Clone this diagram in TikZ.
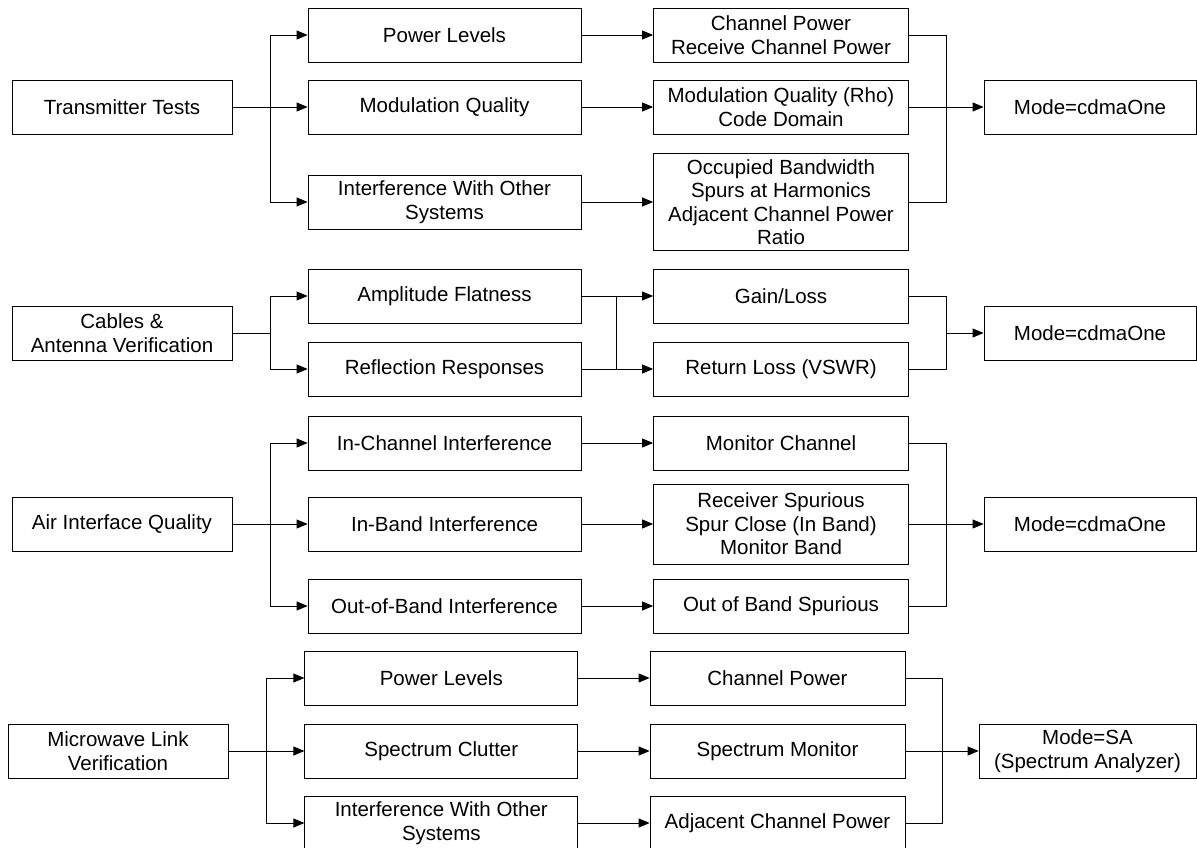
\documentclass[tikz,border=0pt]{standalone}
\usepackage{fontspec}
\setmainfont{Liberation Sans}
\usetikzlibrary{arrows.meta}

\tikzset{
    testbox/.style = {draw, line width = 0.8pt, minimum height = 54pt, inner sep = 0pt,
        align = center, font = \fontsize{20.5}{23.5}\selectfont},
    leftbox/.style = {testbox, minimum width = 220pt},
    midbox/.style  = {testbox, minimum width = 273pt},
    resbox/.style  = {testbox, minimum width = 255pt},
    modebox/.style = {testbox, minimum width = 212pt},
    link/.style = {line width = 0.8pt},
    feed/.style = {link, -{Triangle[length = 11pt, width = 9pt]}}
}

\begin{document}
\begin{tikzpicture}[x = 1pt, y = -1pt]
    \useasboundingbox (0,0) rectangle (1197,848);
    \clip (0,0) rectangle (1197,848);

    %% transmitter tests
    \node [leftbox] (tx) at (122,107) {Transmitter Tests};
    \node [midbox] (txpow) at (444.5,35) {Power Levels};
    \node [midbox] (txmod) at (444.5,107) {Modulation Quality};
    \node [midbox] (txint) at (444.5,202) {Interference With Other\\Systems};
    \node [resbox] (txcp) at (781,35) {Channel Power\\Receive Channel Power};
    \node [resbox] (txrho) at (781,107) {Modulation Quality (Rho)\\Code Domain};
    \node [resbox, minimum height = 97pt] (txobw) at (781,202) {Occupied Bandwidth\\Spurs at Harmonics\\Adjacent Channel Power\\Ratio};
    \node [modebox] (txmode) at (1090,107) {Mode=cdmaOne};
    \coordinate (txsplit) at (270,107);
    \coordinate (txjoin) at (946,107);

    \draw[feed] (tx) -- (txmod);
    \foreach \n in {txpow, txint}
        \draw[feed] (txsplit) |- (\n.west);
    \draw[feed] (txpow) -- (txcp);
    \draw[feed] (txmod) -- (txrho);
    \draw[feed] (txint) -- (txobw);
    \foreach \n in {txcp, txobw}
        \draw[link] (\n.east) -| (txjoin);
    \draw[feed] (txrho) -- (txmode);

    %% cables and antenna
    \node [leftbox] (cab) at (122,333) {Cables \&\\Antenna Verification};
    \node [midbox] (cabflat) at (444.5,296) {Amplitude Flatness};
    \node [midbox] (cabrefl) at (444.5,369) {Reflection Responses};
    \node [resbox] (cabgain) at (781,296) {Gain/Loss};
    \node [resbox] (cabret) at (781,369) {Return Loss (VSWR)};
    \node [modebox] (cabmode) at (1090,333) {Mode=cdmaOne};
    \coordinate (cabsplit) at (270,333);
    \coordinate (cabbus) at (616.5,333);
    \coordinate (cabjoin) at (946,333);

    \draw[link] (cab) -- (cabsplit);
    \foreach \n in {cabflat, cabrefl}
    {
        \draw[feed] (cabsplit) |- (\n.west);
        \draw[link] (\n.east) -| (cabbus);
    }
    \foreach \n in {cabgain, cabret}
    {
        \draw[feed] (cabbus) |- (\n.west);
        \draw[link] (\n.east) -| (cabjoin);
    }
    \draw[feed] (cabjoin) -- (cabmode);

    %% air interface
    \node [leftbox] (air) at (122,524) {Air Interface Quality};
    \node [midbox] (airch) at (444.5,443) {In-Channel Interference};
    \node [midbox] (airband) at (444.5,524) {In-Band Interference};
    \node [midbox] (airout) at (444.5,606) {Out-of-Band Interference};
    \node [resbox] (airmon) at (781,443) {Monitor Channel};
    \node [resbox, minimum height = 80pt] (airspur) at (781,524) {Receiver Spurious\\Spur Close (In Band)\\Monitor Band};
    \node [resbox] (airoob) at (781,606) {Out of Band Spurious};
    \node [modebox] (airmode) at (1090,524) {Mode=cdmaOne};
    \coordinate (airsplit) at (270,524);
    \coordinate (airjoin) at (946,524);

    \draw[feed] (air) -- (airband);
    \foreach \n in {airch, airout}
        \draw[feed] (airsplit) |- (\n.west);
    \draw[feed] (airch) -- (airmon);
    \draw[feed] (airband) -- (airspur);
    \draw[feed] (airout) -- (airoob);
    \foreach \n in {airmon, airoob}
        \draw[link] (\n.east) -| (airjoin);
    \draw[feed] (airspur) -- (airmode);

    %% microwave link
    \node [leftbox] (mw) at (118,751) {Microwave Link\\Verification};
    \node [midbox] (mwpow) at (441.3,678) {Power Levels};
    \node [midbox] (mwclut) at (441.3,751) {Spectrum Clutter};
    \node [midbox] (mwint) at (441.3,823) {Interference With Other\\Systems};
    \node [resbox] (mwcp) at (777.5,678) {Channel Power};
    \node [resbox] (mwmon) at (777.5,751) {Spectrum Monitor};
    \node [resbox] (mwacp) at (777.5,823) {Adjacent Channel Power};
    \node [modebox, minimum width = 217pt] (mwmode) at (1087.5,751) {Mode=SA\\(Spectrum Analyzer)};
    \coordinate (mwsplit) at (266,751);
    \coordinate (mwjoin) at (942.5,751);

    \draw[feed] (mw) -- (mwclut);
    \foreach \n in {mwpow, mwint}
        \draw[feed] (mwsplit) |- (\n.west);
    \draw[feed] (mwpow) -- (mwcp);
    \draw[feed] (mwclut) -- (mwmon);
    \draw[feed] (mwint) -- (mwacp);
    \foreach \n in {mwcp, mwacp}
        \draw[link] (\n.east) -| (mwjoin);
    \draw[feed] (mwmon) -- (mwmode);

\end{tikzpicture}
\end{document}
